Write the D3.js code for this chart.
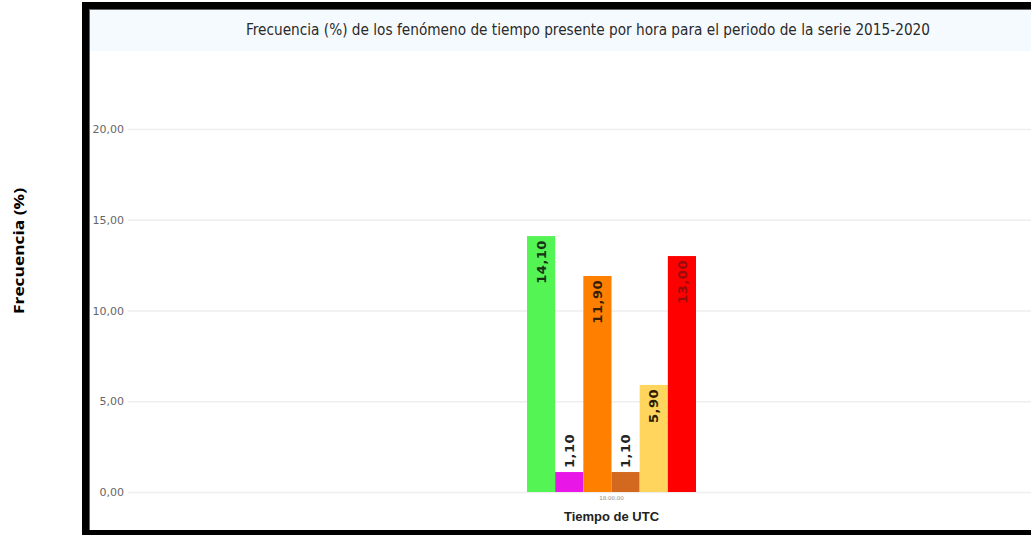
<!DOCTYPE html>
<html>
<head>
<meta charset="utf-8">
<script src="https://cdn.jsdelivr.net/npm/d3@7"></script>
<style>
  html, body { margin: 0; padding: 0; background: #fff; }
  svg { display: block; }
</style>
</head>
<body>
<svg id="chart" width="1031" height="535"></svg>
<script>
// ---- data ----
const categories = ["18:00:00"];
const seriesKeys = ["s1", "s2", "s3", "s4", "s5", "s6"];
const seriesValues = [14.10, 1.10, 11.90, 1.10, 5.90, 13.00];
const seriesColors = ["#55f455", "#e817e8", "#ff8000", "#d2691e", "#ffd55e", "#ff0000"];
const labelColors = ["#173317", "#222222", "#3a2000", "#222222", "#2a2000", "#9a0c0c"];
const yTicks = [0, 5, 10, 15, 20];
const titleText = "Frecuencia (%) de los fenómeno de tiempo presente por hora para el periodo de la serie 2015-2020";
const yTitle = "Frecuencia (%)";
const xTitle = "Tiempo de UTC";

const fmt = v => v.toFixed(2).replace(".", ",");

const svg = d3.select("#chart");
const W = 1031, H = 535;

// frame
svg.append("rect").attr("x", 89).attr("y", 9).attr("width", W - 89).attr("height", 521).attr("fill", "#fff");
// title band
svg.append("rect").attr("x", 89).attr("y", 9).attr("width", W - 89).attr("height", 42).attr("fill", "#f5faff");

// scales
const y = d3.scaleLinear().domain([0, 20]).range([492, 129]);
const x0 = d3.scaleBand().domain(categories).range([130, 1093]).paddingInner(0).paddingOuter(2.349);
const x1 = d3.scaleBand().domain(seriesKeys).range([0, x0.bandwidth()]).padding(0);

// gridlines + y labels
const yAxis = d3.axisLeft(y).tickValues(yTicks).tickFormat(fmt).tickSize(-(W - 128)).tickPadding(4);
const gy = svg.append("g").attr("transform", "translate(128,0)").call(yAxis);
gy.select(".domain").remove();
gy.selectAll(".tick line").attr("stroke", "#eeeeee").attr("stroke-width", 1.5);
gy.selectAll(".tick text").attr("fill", "#666").attr("font-family", "DejaVu Sans, Verdana, sans-serif").attr("font-size", 11);

// bars
const group = svg.append("g").selectAll("g").data(categories).join("g")
  .attr("transform", d => `translate(${x0(d)},0)`);

const items = seriesKeys.map((k, i) => ({ k, v: seriesValues[i], c: seriesColors[i], lc: labelColors[i] }));
const isInside = d => (y(0) - y(d.v)) > 50;

group.selectAll("rect").data(items).join("rect")
  .attr("x", d => x1(d.k))
  .attr("y", d => y(d.v))
  .attr("width", x1.bandwidth())
  .attr("height", d => y(0) - y(d.v))
  .attr("fill", d => d.c);

// value labels (rotated -90deg, reading bottom-to-top)
group.selectAll("text.val").data(items).join("text")
  .attr("class", "val")
  .attr("transform", d => {
    const cx = x1(d.k) + x1.bandwidth() / 2;
    const ty = isInside(d) ? y(d.v) + 4 : y(d.v) - 4;
    return `translate(${cx},${ty}) rotate(-90)`;
  })
  .attr("text-anchor", d => (isInside(d) ? "end" : "start"))
  .attr("dy", "0.36em")
  .attr("font-family", "DejaVu Sans, Verdana, sans-serif")
  .attr("font-weight", "bold")
  .attr("font-size", 13)
  .attr("letter-spacing", 0.5)
  .attr("fill", d => d.lc)
  .text(d => fmt(d.v));

// x tick label
svg.append("g").selectAll("text").data(categories).join("text")
  .attr("x", d => x0(d) + x0.bandwidth() / 2)
  .attr("y", 500)
  .attr("text-anchor", "middle")
  .attr("font-family", "DejaVu Sans, sans-serif")
  .attr("font-size", 5.5)
  .attr("fill", "#888")
  .text(d => d);

// x title
svg.append("text")
  .attr("x", x0(categories[0]) + x0.bandwidth() / 2)
  .attr("y", 521)
  .attr("text-anchor", "middle")
  .attr("font-family", "Liberation Sans, Arial, sans-serif")
  .attr("font-weight", "bold")
  .attr("font-size", 13)
  .attr("fill", "#222")
  .text(xTitle);

// title
svg.append("text")
  .attr("x", 588)
  .attr("y", 35)
  .attr("text-anchor", "middle")
  .attr("font-family", "Liberation Sans Narrow, DejaVu Sans Condensed, Roboto, sans-serif")
  .attr("font-size", 15)
  .attr("fill", "#2a2a2a")
  .attr("textLength", 684)
  .attr("lengthAdjust", "spacingAndGlyphs")
  .text(titleText);

// y title (outside frame)
svg.append("text")
  .attr("transform", "translate(24,251) rotate(-90)")
  .attr("text-anchor", "middle")
  .attr("font-family", "Open Sans, Liberation Sans, Arial, sans-serif")
  .attr("font-weight", "bold")
  .attr("font-size", 15)
  .attr("fill", "#000")
  .attr("textLength", 126)
  .attr("lengthAdjust", "spacingAndGlyphs")
  .text(yTitle);

// black frame borders
svg.append("rect").attr("x", 82).attr("y", 2).attr("width", W - 82).attr("height", 7).attr("fill", "#000");
svg.append("rect").attr("x", 82).attr("y", 2).attr("width", 7).attr("height", H - 2).attr("fill", "#000");
svg.append("rect").attr("x", 82).attr("y", 530).attr("width", W - 82).attr("height", 5).attr("fill", "#000");
svg.append("line").attr("x1", 89.5).attr("x2", 89.5).attr("y1", 9).attr("y2", 530).attr("stroke", "#666").attr("stroke-width", 1);
svg.append("line").attr("x1", 89).attr("x2", W).attr("y1", 9.5).attr("y2", 9.5).attr("stroke", "#666").attr("stroke-width", 1);
</script>
</body>
</html>
